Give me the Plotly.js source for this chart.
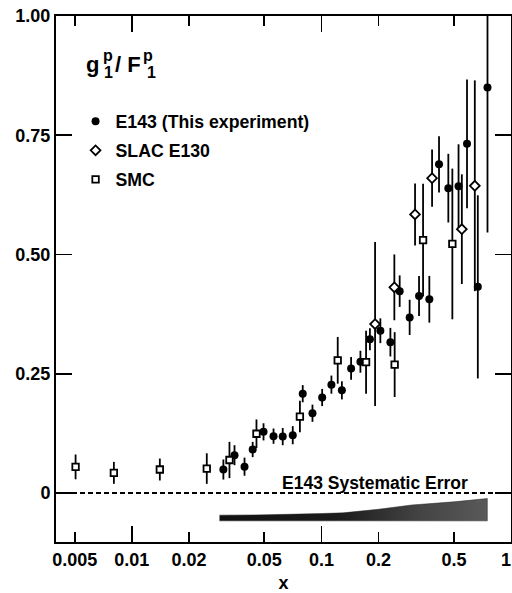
<!DOCTYPE html>
<html>
<head>
<meta charset="utf-8">
<script src="https://cdn.plot.ly/plotly-3.0.1.min.js"></script>
<style>html,body{margin:0;padding:0;background:#fff;}#chart{width:512px;height:593px;}</style>
</head>
<body>
<div id="chart"></div>
<script>
// E143 (this experiment)
const e143X = [0.0304, 0.0348, 0.0393, 0.0434, 0.0495, 0.0559, 0.0625, 0.0706, 0.0797, 0.0897, 0.1009, 0.1129, 0.1282, 0.1434, 0.1606, 0.1802, 0.2046, 0.2311, 0.2587, 0.2920, 0.3273, 0.3709, 0.4172, 0.4671, 0.5288, 0.5861, 0.6683, 0.7516];
const e143Y = [0.049, 0.079, 0.055, 0.091, 0.128, 0.119, 0.118, 0.121, 0.208, 0.167, 0.200, 0.227, 0.215, 0.261, 0.275, 0.322, 0.340, 0.316, 0.423, 0.368, 0.413, 0.406, 0.689, 0.639, 0.643, 0.732, 0.432, 0.850];
const e143Err = [0.021, 0.021, 0.019, 0.016, 0.018, 0.016, 0.018, 0.019, 0.018, 0.018, 0.018, 0.019, 0.019, 0.024, 0.023, 0.023, 0.026, 0.030, 0.033, 0.037, 0.042, 0.049, 0.059, 0.072, 0.088, 0.135, 0.192, 0.304];
// SLAC E130
const e130X = [0.1919, 0.2425, 0.3118, 0.3834, 0.5504, 0.6443];
const e130Y = [0.354, 0.431, 0.584, 0.660, 0.553, 0.644];
const e130Err = [0.172, 0.069, 0.065, 0.060, 0.115, 0.221];
// SMC
const smcX = [0.00505, 0.00804, 0.01405, 0.02485, 0.03273, 0.04544, 0.0770, 0.1219, 0.1720, 0.2434, 0.3437, 0.4905];
const smcY = [0.0545, 0.042, 0.049, 0.051, 0.069, 0.124, 0.160, 0.278, 0.274, 0.269, 0.530, 0.522];
const smcErr = [0.026, 0.023, 0.023, 0.032, 0.038, 0.030, 0.033, 0.049, 0.066, 0.068, 0.118, 0.158];
// E143 systematic error band
const sysX = [0.029, 0.05, 0.1, 0.13, 0.2, 0.3, 0.5, 0.75];
const sysErr = [0.012, 0.0126, 0.0154, 0.0168, 0.0243, 0.0333, 0.0399, 0.0468];
const sysBase = -0.0587;
// tick labels
const decadeTicks = [0.01, 0.1, 1];
const decadeLabels = ['0.01', '0.1', ''];
const minorTicks = [0.005, 0.02, 0.05, 0.2, 0.5];
const minorLabels = ['0.005', '0.02', '0.05', '0.2', '0.5'];
const edgeTicks = [1];
const edgeLabels = ['1'];
const yTicks = [0, 0.25, 0.5, 0.75, 1];
const yLabels = ['0', '0.25', '0.50', '0.75', '1.00'];

const FONT = 'Liberation Sans, Arial, Helvetica, sans-serif';
const errStyle = (arr) => ({type: 'data', array: arr, visible: true, color: '#000', thickness: 1.8, width: 0});

const bandX = sysX.concat(sysX.slice().reverse());
const bandY = sysX.map((_, i) => sysBase + sysErr[i]).concat(sysX.map(() => sysBase));

const traces = [
  {
    x: bandX, y: bandY, xaxis: 'x2', yaxis: 'y', type: 'scatter', mode: 'lines',
    fill: 'toself', line: {width: 0.5, color: '#222'},
    fillgradient: {type: 'horizontal', colorscale: [[0, '#111'], [0.45, '#1c1c1c'], [0.75, '#444'], [1, '#5a5a5a']]},
    showlegend: false, hoverinfo: 'skip'
  },
  {
    name: 'E143 (This experiment)', legendgroup: 'a', x: e143X, y: e143Y, type: 'scatter', mode: 'markers',
    error_y: errStyle(e143Err),
    marker: {symbol: 'circle', size: 8, color: '#000'}
  },
  {
    name: 'SLAC E130', legendgroup: 'b', x: e130X, y: e130Y, xaxis: 'x3', yaxis: 'y', type: 'scatter', mode: 'markers',
    error_y: errStyle(e130Err),
    marker: {symbol: 'diamond', size: 7.5, color: '#fff', line: {color: '#000', width: 1.8}}
  },
  {
    name: 'SMC', legendgroup: 'c', x: smcX, y: smcY, type: 'scatter', mode: 'markers',
    error_y: errStyle(smcErr),
    marker: {symbol: 'square', size: 6.5, color: '#fff', line: {color: '#000', width: 1.8}}
  }
];

const L = 56, T = 16, W = 455, H = 526;
const px = (p) => (p - L) / W;
const py = (p) => (T + H - p) / H;

const annotations = [
  {text: 'g', x: px(84), y: py(64), font: {size: 22, weight: 'bold'}},
  {text: 'p', x: px(100.5), y: py(56), font: {size: 16, weight: 'bold'}},
  {text: '1', x: px(101.5), y: py(72), font: {size: 16, weight: 'bold'}},
  {text: '/ F', x: px(112.5), y: py(64), font: {size: 22, weight: 'bold'}},
  {text: 'p', x: px(140.5), y: py(56), font: {size: 16, weight: 'bold'}},
  {text: '1', x: px(145), y: py(72), font: {size: 16, weight: 'bold'}},
  {text: 'E143 Systematic Error', x: px(280), y: py(483), font: {size: 17.5, weight: 'bold'}}
].map(a => Object.assign({xref: 'paper', yref: 'paper', xanchor: 'left', yanchor: 'middle', showarrow: false}, a));

const axisCommon = {
  type: 'log', range: [-2.4, 0], ticks: 'inside', tickwidth: 1.8, tickcolor: '#000',
  showgrid: false, zeroline: false, tickfont: {size: 18, color: '#000', weight: 'bold'},
  showline: true, linewidth: 2, linecolor: '#000', mirror: 'ticks', ticklabeloverflow: 'allow'
};

const layout = {
  width: 512, height: 593,
  margin: {l: L, r: 1, t: T, b: 51},
  paper_bgcolor: '#fff', plot_bgcolor: '#fff',
  font: {family: FONT, color: '#000', size: 18},
  showlegend: true,
  legend: {x: 0.043, y: 0.834, xanchor: 'left', yanchor: 'top', bgcolor: 'rgba(0,0,0,0)', traceorder: 'grouped', tracegroupgap: 3,
           font: {size: 17.7, weight: 'bold'}, borderwidth: 0},
  xaxis: Object.assign({}, axisCommon, {
    tickvals: decadeTicks, ticktext: decadeLabels, ticklen: 16,
    title: {text: 'x', font: {size: 18, weight: 'bold'}, standoff: 8}
  }),
  xaxis2: Object.assign({}, axisCommon, {
    overlaying: 'x', anchor: 'y', side: 'bottom',
    tickvals: minorTicks, ticktext: minorLabels, ticklen: 10
  }),
  xaxis3: Object.assign({}, axisCommon, {
    overlaying: 'x', anchor: 'y', side: 'bottom', mirror: false,
    tickvals: edgeTicks, ticktext: edgeLabels, ticks: '', ticklabelshift: -5
  }),
  yaxis: {
    range: [-0.103, 1.0], tickvals: yTicks, ticktext: yLabels,
    ticks: 'inside', ticklen: 16, tickwidth: 1.8, tickcolor: '#000',
    showline: true, linewidth: 2, linecolor: '#000', mirror: 'ticks',
    showgrid: false, zeroline: false, tickfont: {size: 18, color: '#000', weight: 'bold'}
  },
  shapes: [{type: 'line', xref: 'paper', x0: 0, x1: 1, yref: 'y', y0: 0, y1: 0, line: {color: '#000', width: 2, dash: '5px,3px'}}],
  annotations: annotations
};

Plotly.newPlot('chart', traces, layout, {staticPlot: true, displayModeBar: false});
</script>
</body>
</html>
